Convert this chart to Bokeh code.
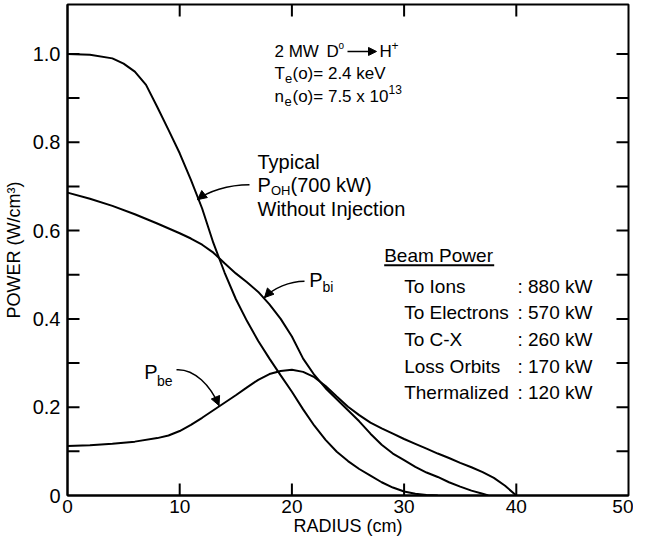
from bokeh.plotting import figure
from bokeh.models import FixedTicker, Range1d, Arrow, NormalHead
from bokeh.core.properties import value
from bokeh.embed import file_html
from bokeh.resources import INLINE

# ---------------- data ----------------
radius_oh = [0, 2, 4, 5, 6, 7, 8, 9, 10, 11, 12, 13, 14, 15, 16, 17, 18, 19, 20,
             21, 22, 23, 24, 25, 26, 27, 28, 29, 30, 31, 32, 33]
power_oh = [1.000, 0.998, 0.990, 0.978, 0.960, 0.930, 0.880, 0.828, 0.775, 0.715,
            0.650, 0.572, 0.505, 0.445, 0.395, 0.350, 0.310, 0.272, 0.235, 0.195,
            0.158, 0.126, 0.099, 0.078, 0.060, 0.045, 0.030, 0.018, 0.009, 0.004,
            0.001, 0.000]

radius_bi = [0, 2, 4, 6, 8, 10, 11, 12, 13, 14, 15, 16, 17, 18, 19, 20, 21, 22, 23,
             24, 25, 26, 27, 28, 29, 30, 31, 32, 33, 34, 35, 36, 37, 37.5]
power_bi = [0.686, 0.672, 0.656, 0.637, 0.616, 0.594, 0.582, 0.568, 0.550, 0.526,
            0.503, 0.483, 0.461, 0.433, 0.400, 0.360, 0.310, 0.273, 0.243, 0.218,
            0.193, 0.168, 0.140, 0.115, 0.095, 0.080, 0.065, 0.052, 0.042, 0.030,
            0.020, 0.011, 0.004, 0.000]

radius_be = [0, 2, 4, 6, 8, 9, 10, 11, 12, 13, 14, 15, 16, 17, 18, 19, 20, 21, 22,
             23, 24, 25, 26, 27, 28, 29, 30, 31, 32, 33, 34, 35, 36, 37, 38, 39, 40]
power_be = [0.112, 0.114, 0.117, 0.122, 0.130, 0.136, 0.146, 0.160, 0.176, 0.193,
            0.210, 0.227, 0.245, 0.262, 0.275, 0.282, 0.285, 0.280, 0.268, 0.248,
            0.224, 0.201, 0.182, 0.165, 0.152, 0.140, 0.128, 0.117, 0.106, 0.095,
            0.085, 0.074, 0.064, 0.053, 0.040, 0.022, 0.000]

x_tick_values = [0, 10, 20, 30, 40, 50]
x_tick_labels = ["0", "10", "20", "30", "40", "50"]
y_tick_values = [0, 0.2, 0.4, 0.6, 0.8, 1.0]
y_tick_labels = ["0", "0.2", "0.4", "0.6", "0.8", "1.0"]
side_tick_values = [0.1, 0.2, 0.3, 0.4, 0.5, 0.6, 0.7, 0.8, 0.9, 1.0]
edge_tick_values = [10, 20, 30, 40]

beam_title = "Beam Power"
beam_labels = ["To Ions", "To Electrons", "To C-X", "Loss Orbits", "Thermalized"]
beam_values_kw = [880, 570, 260, 170, 120]

FONT = "Liberation Sans"
X_MAX = 50
Y_MAX = 1.112
TICK_X = 12 / 11.22      # 12 px expressed in x units
TICK_Y = 12 / 439.5      # 12 px expressed in y units


# pixel position in the reference picture -> data coordinates (annotation placement)
def dx(px):
    return (px - 75) / 11.22


def dy(py):
    return (505.5 - py) / 444.0


p = figure(width=633, height=538, output_backend="svg", toolbar_location=None,
           x_range=Range1d(0, X_MAX), y_range=Range1d(0, Y_MAX),
           min_border_left=67, min_border_right=5, min_border_top=4,
           min_border_bottom=40, background_fill_color="white",
           border_fill_color="white")
p.grid.visible = False
p.outline_line_color = "black"
p.outline_line_width = 2

# bottom axis
xa = p.xaxis[0]
xa.ticker = FixedTicker(ticks=x_tick_values)
xa.major_label_overrides = {v: s for v, s in zip(x_tick_values, x_tick_labels)}
xa.axis_label = "RADIUS (cm)"
xa.major_label_standoff = 4
xa.axis_label_standoff = 0

# left axis
ya = p.yaxis[0]
ya.ticker = FixedTicker(ticks=y_tick_values)
ya.major_label_overrides = {v: s for v, s in zip(y_tick_values, y_tick_labels)}
ya.axis_label = "POWER (W/cm³)"
ya.major_label_standoff = 7
ya.axis_label_standoff = 6

for ax in (xa, ya):
    ax.axis_line_width = 2
    ax.axis_line_color = "black"
    ax.major_tick_in = 0
    ax.major_tick_out = 0
    ax.major_tick_line_color = None
    ax.minor_tick_line_color = None
    ax.major_label_text_font = FONT
    ax.major_label_text_color = "black"
    ax.axis_label_text_font = FONT
    ax.axis_label_text_font_style = "normal"
    ax.axis_label_text_color = "black"
xa.major_label_text_font_size = "19px"
ya.major_label_text_font_size = "20px"
xa.axis_label_text_font_size = "18px"
ya.axis_label_text_font_size = "18px"

# inward tick marks on all four edges of the frame
n_e = len(edge_tick_values)
n_s = len(side_tick_values)
p.segment(x0=edge_tick_values, y0=[0] * n_e, x1=edge_tick_values, y1=[TICK_Y] * n_e,
          line_color="black", line_width=2)
p.segment(x0=edge_tick_values, y0=[Y_MAX] * n_e, x1=edge_tick_values,
          y1=[Y_MAX - TICK_Y] * n_e, line_color="black", line_width=2)
p.segment(x0=[0] * n_s, y0=side_tick_values, x1=[TICK_X] * n_s, y1=side_tick_values,
          line_color="black", line_width=2)
p.segment(x0=[X_MAX] * n_s, y0=side_tick_values, x1=[X_MAX - TICK_X] * n_s,
          y1=side_tick_values, line_color="black", line_width=2)

# curves
p.line(radius_oh, power_oh, line_color="black", line_width=2)
p.line(radius_bi, power_bi, line_color="black", line_width=2)
p.line(radius_be, power_be, line_color="black", line_width=2)


def txt(px, py, s, size, align="left"):
    p.text(x=[dx(px)], y=[dy(py)], text=[s], text_font=value(FONT),
           text_font_size=size, text_baseline="middle", text_align=align,
           text_color="black")


# upper-right condition block
txt(282, 59, "2 MW", "17px")
txt(334, 59, "D", "17px")
txt(346, 53, "o", "10px")
p.add_layout(Arrow(end=NormalHead(size=8, line_color="black", fill_color="black",
                                  line_width=1),
                   x_start=dx(355), y_start=dy(59), x_end=dx(384), y_end=dy(59),
                   line_color="black", line_width=1.5))
txt(387, 59, "H", "17px")
txt(399, 53, "+", "12px")
txt(282, 81, "T", "17px")
txt(292.5, 86, "e", "13px")
txt(300, 81, "(o)= 2.4 keV", "17px")
txt(282, 104, "n", "17px")
txt(292, 109, "e", "13px")
txt(300, 104, "(o)= 7.5 x 10", "17px")
txt(396, 97, "13", "12px")

# P_OH annotation
txt(265, 170.5, "Typical", "20px")
txt(265, 193.5, "P", "20px")
txt(278.5, 199, "OH", "13px")
txt(298, 193.5, "(700 kW)", "20px")
txt(265, 217.5, "Without Injection", "20px")

# P_bi / P_be labels
txt(316.7, 288.3, "P", "20px")
txt(330, 296, "bi", "14px")
txt(151.7, 381.7, "P", "20px")
txt(164.5, 390, "be", "14px")

# beam power table
txt(391.7, 264, beam_title, "19px")
p.segment(x0=[dx(391.7)], y0=[dy(274)], x1=[dx(501.7)], y1=[dy(274)],
          line_color="black", line_width=2)
row_y = [295, 321.8, 348.6, 375.4, 402.2]
for lab, val, yy in zip(beam_labels, beam_values_kw, row_y):
    txt(411.7, yy, lab, "19px")
    txt(525, yy, f": {val} kW", "19px")

# curved pointer arrows (start, control0, control1, tip) in picture pixels
arrows = [
    ((257, 193), (235, 193), (215, 200), (205, 208)),
    ((312, 290), (297, 290), (281, 297), (272, 306.5)),
    ((184, 379), (202, 378), (218, 395), (226.5, 415)),
]
for s, c0, c1, e in arrows:
    p.bezier(x0=[dx(s[0])], y0=[dy(s[1])], x1=[dx(e[0])], y1=[dy(e[1])],
             cx0=[dx(c0[0])], cy0=[dy(c0[1])], cx1=[dx(c1[0])], cy1=[dy(c1[1])],
             line_color="black", line_width=1.5)
    hx = e[0] + 0.35 * (c1[0] - e[0])
    hy = e[1] + 0.35 * (c1[1] - e[1])
    p.add_layout(Arrow(end=NormalHead(size=9, line_color="black", fill_color="black",
                                      line_width=1),
                       x_start=dx(hx), y_start=dy(hy), x_end=dx(e[0]), y_end=dy(e[1]),
                       line_color="black", line_width=1.5))

open("out.html", "w").write(file_html(p, INLINE))
